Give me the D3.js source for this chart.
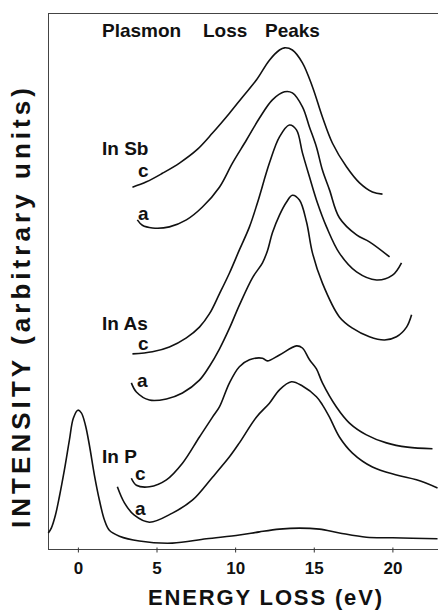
<!DOCTYPE html>
<html>
<head>
<meta charset="utf-8">
<script src="https://cdn.jsdelivr.net/npm/d3@7"></script>
<style>
  body { margin: 0; background: #fff; }
  svg { display: block; }
  text { font-family: "Liberation Sans", Arial, sans-serif; font-weight: bold; fill: #111; }
</style>
</head>
<body>
<svg id="chart" width="438" height="610"></svg>
<script>
// Energy loss (eV), intensity (arbitrary units 0-100)
const inSbC = [[3.47,67.5],[4.36,68.5],[5.38,70.1],[6.46,72.0],[7.54,74.4],[8.56,77.6],[9.64,81.3],[10.46,84.3],[11.35,87.5],[12.18,91.2],[12.82,93.1],[13.14,93.5],[13.64,93.1],[14.28,90.7],[14.92,86.2],[15.55,80.6],[16.19,75.7],[17.08,71.3],[17.91,68.3],[18.73,66.6],[19.37,66.2]];
const inSbA = [[3.78,61.4],[4.10,60.4],[4.74,59.9],[5.82,60.1],[6.90,61.4],[7.92,63.8],[9.00,67.5],[9.83,72.0],[10.72,76.3],[11.55,80.4],[12.37,83.8],[13.14,85.3],[13.64,85.1],[14.28,82.5],[14.73,78.7],[15.17,75.0],[15.55,70.7],[16.00,67.0],[16.63,61.8],[17.72,58.6],[18.54,57.3],[19.82,54.5]];
const inAsC = [[3.47,36.4],[4.74,36.8],[5.82,37.7],[6.90,39.4],[7.73,41.4],[8.37,43.9],[9.00,47.6],[9.64,51.5],[10.27,55.8],[10.91,60.1],[11.42,64.6],[12.18,72.0],[12.82,76.9],[13.45,79.1],[13.90,78.2],[14.28,73.9],[14.73,69.4],[15.23,64.6],[15.81,60.1],[16.63,55.2],[17.72,51.7],[18.99,50.2],[20.01,51.1],[20.58,53.4]];
const inAsA = [[3.40,31.0],[3.72,29.3],[4.55,27.8],[5.63,28.0],[6.65,29.1],[7.73,31.5],[8.37,34.1],[9.00,37.3],[9.64,41.2],[10.27,45.5],[11.10,50.6],[11.74,53.4],[12.05,55.6],[12.37,59.0],[12.82,62.3],[13.26,64.7],[13.64,66.0],[14.09,65.1],[14.54,61.0],[14.92,55.2],[15.55,49.6],[16.63,43.3],[17.46,41.2],[18.54,39.6],[19.50,39.0],[20.26,39.6],[20.90,41.4],[21.22,43.7]];
const inPC = [[3.40,13.2],[3.72,11.9],[4.55,11.6],[5.63,12.9],[6.65,16.0],[7.73,20.9],[8.56,24.6],[9.00,26.5],[9.64,31.0],[10.27,34.0],[10.91,35.3],[11.74,35.6],[12.05,35.1],[12.82,36.2],[13.90,37.9],[14.28,37.5],[14.73,35.3],[15.17,33.6],[15.55,31.0],[16.44,26.5],[17.27,23.5],[18.35,21.3],[19.62,19.8],[20.96,19.0],[22.55,18.7]];
const inPA = [[2.51,11.6],[2.96,8.6],[3.59,6.3],[4.55,5.0],[6.01,6.7],[7.28,9.1],[8.56,13.4],[9.64,17.2],[10.27,19.8],[11.35,24.6],[12.18,27.2],[12.82,29.7],[13.58,31.2],[14.28,30.4],[15.17,28.4],[15.55,26.9],[16.00,24.6],[16.63,20.9],[17.46,17.9],[18.73,15.3],[20.26,13.8],[21.53,12.9],[22.87,11.4]];
const elastic = [[-1.88,3.0],[-1.69,3.9],[-1.43,6.3],[-1.18,9.7],[-0.86,14.7],[-0.54,20.3],[-0.29,24.4],[0,25.9],[0.22,25.4],[0.48,23.1],[0.73,19.4],[1.05,13.8],[1.37,9.1],[1.69,5.4],[2.00,3.5],[2.64,2.4],[3.91,1.5],[6.01,1.1],[8.17,1.9],[10.27,2.6],[11.55,3.2],[12.82,3.7],[14.09,3.9],[15.36,3.7],[16.63,3.0],[18.35,2.2],[20.01,2.1],[22.87,1.9]];

const xTicks = [0, 5, 10, 15, 20];
const titleWords = ["Plasmon", "Loss", "Peaks"];

const svg = d3.select("#chart");

const x = d3.scaleLinear().domain([-1.9, 22.9]).range([48, 438]);
const y = d3.scaleLinear().domain([0, 100]).range([549, 13]);

// frame (left, top)
const frame = svg.append("g").attr("stroke", "#444").attr("stroke-width", 1);
frame.append("line").attr("x1", 48.5).attr("x2", 48.5).attr("y1", 13).attr("y2", 549);
frame.append("line").attr("x1", 48).attr("x2", 438).attr("y1", 13.5).attr("y2", 13.5);

// x axis
const xAxis = svg.append("g")
  .attr("transform", "translate(0,549.5)")
  .call(d3.axisBottom(x).tickValues(xTicks).tickSize(3).tickPadding(9).tickFormat(d3.format("d")));
xAxis.select(".domain").attr("d", "M48,0H438").attr("stroke", "#444");
xAxis.selectAll(".tick line").attr("y1", -2).attr("stroke", "#333");
xAxis.selectAll(".tick text")
  .attr("font-family", "Liberation Sans, Arial, sans-serif")
  .attr("font-weight", "bold")
  .attr("font-size", 17)
  .attr("fill", "#111");

// curves
const line = d3.line()
  .x(d => x(d[0]))
  .y(d => y(d[1]))
  .curve(d3.curveCatmullRom.alpha(0.5));

svg.append("g")
  .selectAll("path")
  .data([inSbC, inSbA, inAsC, inAsA, inPC, inPA, elastic])
  .enter().append("path")
  .attr("d", line)
  .attr("fill", "none")
  .attr("stroke", "#111")
  .attr("stroke-width", 1.6)
  .attr("stroke-linejoin", "round");

// title
const title = svg.append("text").attr("y", 37).attr("font-size", 19);
title.selectAll("tspan")
  .data(titleWords)
  .enter().append("tspan")
  .attr("x", (d, i) => [102, 203, 265][i])
  .text(d => d);

// curve labels
const labels = [
  ["In Sb", 102, 155], ["c", 138, 177], ["a", 138, 220],
  ["In As", 102, 330], ["c", 138, 350], ["a", 137, 387],
  ["In P", 102, 463], ["c", 135, 480], ["a", 135, 515]
];
svg.append("g")
  .selectAll("text")
  .data(labels)
  .enter().append("text")
  .attr("x", d => d[1])
  .attr("y", d => d[2])
  .attr("font-size", 19)
  .text(d => d[0]);

// axis titles
svg.append("text")
  .attr("x", 148)
  .attr("y", 605)
  .attr("font-size", 22)
  .attr("textLength", 234)
  .attr("lengthAdjust", "spacing")
  .text("ENERGY LOSS (eV)");

svg.append("text")
  .attr("transform", "translate(30,308) rotate(-90)")
  .attr("text-anchor", "middle")
  .attr("font-size", 26)
  .attr("textLength", 440)
  .attr("lengthAdjust", "spacing")
  .text("INTENSITY (arbitrary units)");
</script>
</body>
</html>
